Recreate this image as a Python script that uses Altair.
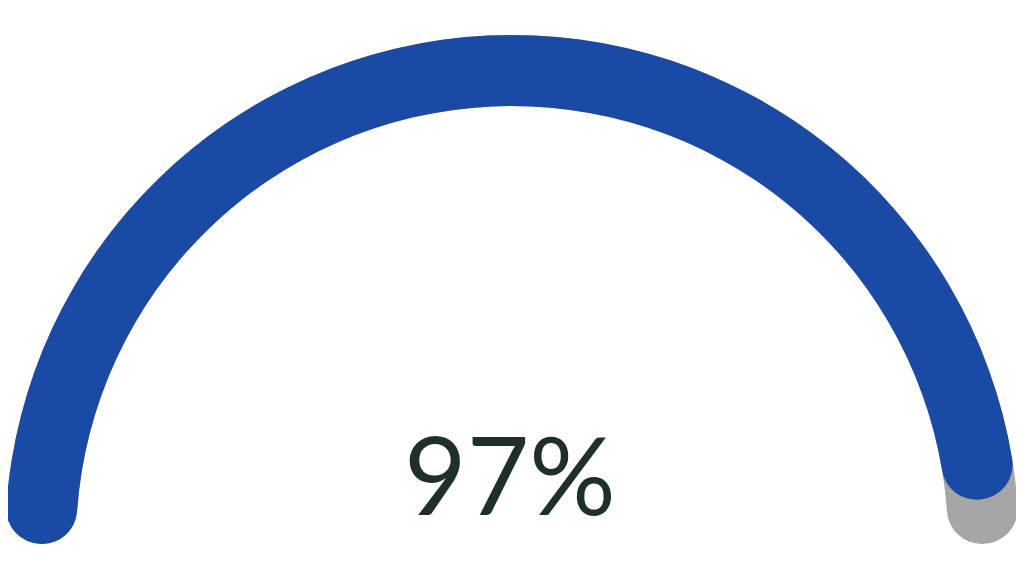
import math
import altair as alt
import pandas as pd

# Gauge data
value = 97
max_value = 100
label = "97%"

segments = ["track", "value"]
starts = [0, 0]
ends = [max_value, value]
colors = ["#a7a6a7", "#1a4aa3"]

df = pd.DataFrame({"segment": segments, "start": starts, "end": ends, "order": [0, 1]})

half = math.pi / 2 + 0.004
theta_scale = alt.Scale(domain=[0, max_value], range=[-half, half])

W, H = 1008, 560
cx, cy = 504, 534

arcs = alt.Chart(df).mark_arc(radius=507, radius2=436, cornerRadius=35).encode(
    theta=alt.Theta("start:Q", scale=theta_scale, stack=None),
    theta2="end:Q",
    color=alt.Color("segment:N", scale=alt.Scale(domain=segments, range=colors), legend=None),
    order=alt.Order("order:Q"),
    x=alt.value(cx),
    y=alt.value(cy),
)

text = alt.Chart(pd.DataFrame({"label": [label]})).mark_text(
    font="Lato", fontSize=108, fontWeight="normal", color="#1f2f2a",
    align="center", baseline="alphabetic",
).encode(
    text="label:N",
    x=alt.value(cx - 2),
    y=alt.value(507),
)

chart = alt.layer(arcs, text).properties(
    width=W, height=H, padding=0, autosize="none"
).configure(background="white", view=alt.ViewConfig(stroke=None))

chart.save("out.html", embed_options={"renderer": "svg", "actions": False})
